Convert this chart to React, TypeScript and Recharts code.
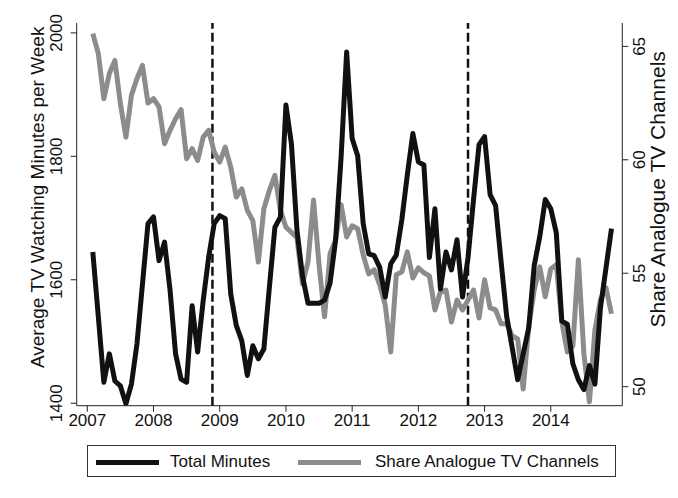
import React from "react";
import { ComposedChart, Line, XAxis, YAxis, ReferenceLine } from "recharts";

const font = "'Liberation Sans', Arial, Helvetica, sans-serif";

// monthly observations, Feb 2007 .. Dec 2014
const startYear = 2007;
const firstMonth = 1;

const totalMinutes = [
  1645, 1540, 1434, 1480, 1436, 1428, 1399, 1431, 1496, 1593, 1691, 1702,
  1631, 1661, 1583, 1480, 1439, 1434, 1558, 1483, 1566, 1637, 1691, 1704,
  1699, 1577, 1526, 1501, 1445, 1493, 1472, 1488, 1588, 1685, 1702, 1883,
  1820, 1680, 1606, 1562, 1562, 1562, 1567, 1595, 1664, 1799, 1969, 1829,
  1801, 1691, 1642, 1639, 1620, 1572, 1626, 1640, 1697, 1770, 1837, 1791,
  1786, 1636, 1715, 1585, 1645, 1616, 1665, 1572, 1636, 1730, 1819, 1832,
  1738, 1720, 1629, 1541, 1490, 1438, 1480, 1522, 1623, 1670, 1730, 1715,
  1676, 1533, 1528, 1464, 1438, 1422, 1461, 1431, 1555, 1619, 1683,
];

const shareAnalogue = [
  65.56, 64.68, 62.69, 63.8, 64.38, 62.47, 61.0, 62.84, 63.58, 64.16, 62.5, 62.69,
  62.33, 60.71, 61.3, 61.81, 62.21, 60.05, 60.49, 59.97, 61.0, 61.3, 60.34, 59.9,
  60.56, 59.68, 58.36, 58.72, 57.77, 57.32, 55.49, 57.84, 58.65, 59.31, 57.77, 57.03,
  56.8, 56.56, 54.53, 55.5, 58.23, 55.37, 53.08, 55.86, 56.47, 58.02, 56.6, 57.09,
  56.96, 55.81, 54.97, 55.15, 54.49, 53.6, 51.53, 54.93, 55.06, 55.94, 54.79, 55.24,
  55.02, 54.88, 53.38, 54.18, 54.26, 52.85, 53.82, 53.38, 53.82, 54.26, 53.03, 54.71,
  53.47, 53.38, 52.77, 52.77, 52.24, 52.1, 49.9, 52.64, 54.27, 55.28, 53.96, 55.19,
  55.37, 52.86, 51.53, 51.8, 55.59, 51.45, 49.33, 52.5, 53.83, 54.36, 53.21,
];

const yearTicks = [2007, 2008, 2009, 2010, 2011, 2012, 2013, 2014];
const minuteTicks = [1400, 1600, 1800, 2000];
const shareTicks = [50, 55, 60, 65];
const breakDates = [2008.89, 2012.75];

const data = totalMinutes.map((v, i) => ({
  t: startYear + (firstMonth + i) / 12,
  total: v,
  share: shareAnalogue[i],
}));

const black = "#111111";
const grey = "#8c8c8c";

const RotTick = ({ x, y, payload }: any) => (
  <text
    x={x}
    y={y}
    transform={`rotate(-90, ${x}, ${y})`}
    textAnchor="middle"
    fontSize={17}
    fontFamily={font}
    fill={black}
  >
    {payload.value}
  </text>
);

const titleAt = (text: string, dx: number, dy: number, size: number) => (props: any) => {
  const vb = props.viewBox;
  const x = vb.x + dx;
  const y = vb.y + vb.height / 2 + dy;
  return (
    <text
      x={x}
      y={y}
      transform={`rotate(-90, ${x}, ${y})`}
      textAnchor="middle"
      fontSize={size}
      fontFamily={font}
      fill={black}
    >
      {text}
    </text>
  );
};

function LegendBox() {
  const item = (left: number, color: string, label: string, textLeft: number) => (
    <>
      <div style={{ position: "absolute", left, top: 14, width: 63, height: 5, background: color }} />
      <div style={{ position: "absolute", left: textLeft, top: 6, fontSize: 17, lineHeight: "20px", color: black, whiteSpace: "nowrap" }}>
        {label}
      </div>
    </>
  );
  return (
    <div
      style={{
        position: "absolute",
        left: 87,
        top: 445,
        width: 529,
        height: 32,
        boxSizing: "border-box",
        border: "1px solid #333",
        fontFamily: font,
        background: "#fff",
      }}
    >
      {item(8, black, "Total Minutes", 82)}
      {item(210, grey, "Share Analogue TV Channels", 287)}
    </div>
  );
}

export default function App() {
  return (
    <div style={{ position: "absolute", left: 0, top: 0, width: 678, height: 498, background: "#fff" }}>
      <ComposedChart width={678} height={498} data={data} margin={{ top: 23, right: 0, left: 0, bottom: 0 }}>
        <XAxis
          dataKey="t"
          type="number"
          domain={[2006.84, 2015.08]}
          ticks={yearTicks}
          allowDataOverflow
          height={92.3}
          tickSize={6}
          tickMargin={2}
          stroke="#222"
          tick={{ fontSize: 17, fill: black, fontFamily: font }}
        />
        <YAxis
          yAxisId="left"
          domain={[1396, 2016]}
          ticks={minuteTicks}
          allowDataOverflow
          width={76.7}
          tickSize={6}
          tickMargin={8.7}
          stroke="#222"
          tick={<RotTick />}
          label={{ content: titleAt("Average TV Watching Minutes per Week", 44, -17, 19) }}
        />
        <YAxis
          yAxisId="right"
          orientation="right"
          domain={[49.16, 66.03]}
          ticks={shareTicks}
          allowDataOverflow
          width={55.7}
          tickSize={6}
          tickMargin={16.7}
          stroke="#222"
          tick={<RotTick />}
          label={{ content: titleAt("Share Analogue TV Channels", 42.5, -25, 21) }}
        />
        {breakDates.map((d) => (
          <ReferenceLine
            key={d}
            x={d}
            yAxisId="left"
            stroke={black}
            strokeWidth={2.5}
            strokeDasharray="9 4"
          />
        ))}
        <Line
          yAxisId="right"
          type="linear"
          dataKey="share"
          stroke={grey}
          strokeWidth={5}
          strokeLinejoin="round"
          dot={false}
          isAnimationActive={false}
        />
        <Line
          yAxisId="left"
          type="linear"
          dataKey="total"
          stroke={black}
          strokeWidth={5}
          strokeLinejoin="round"
          dot={false}
          isAnimationActive={false}
        />
      </ComposedChart>
      <LegendBox />
    </div>
  );
}
